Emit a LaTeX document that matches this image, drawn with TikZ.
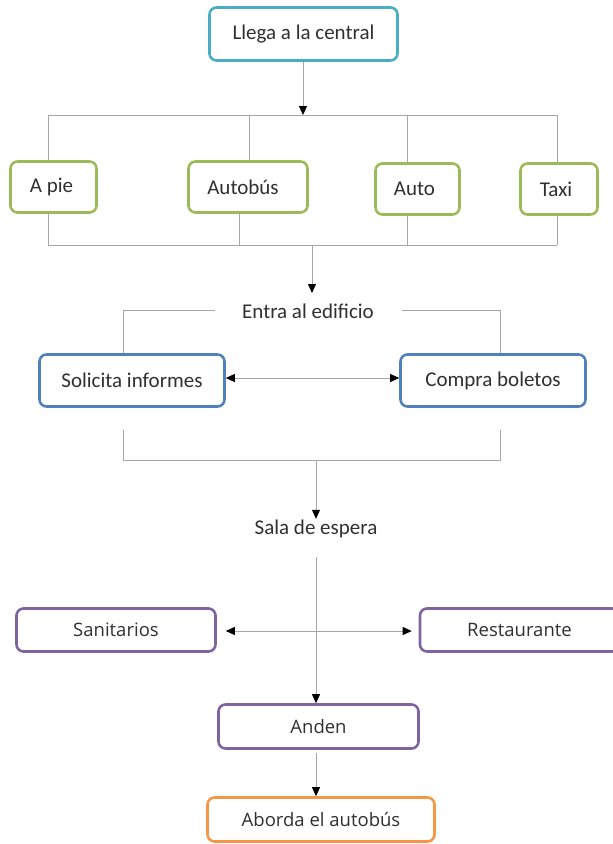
\documentclass[tikz,border=0pt]{standalone}
\usepackage{fontspec}
\setmainfont{Carlito}
\newfontfamily\osans{Open Sans}
\usetikzlibrary{arrows.meta}
\definecolor{cyanb}{HTML}{4BACC6}
\definecolor{greenb}{HTML}{9BBB59}
\definecolor{blueb}{HTML}{4F81BD}
\definecolor{purpleb}{HTML}{8064A2}
\definecolor{orangeb}{HTML}{F79646}
\definecolor{linegray}{HTML}{A6A6A6}
\definecolor{txt}{HTML}{303030}
\begin{document}
\begin{tikzpicture}[x=1pt,y=-1pt,
  box/.style={draw, rounded corners=7pt, line width=2.6pt, fill=white, inner sep=0pt, align=center, text=txt},
  topfont/.style={font=\fontsize{21}{24}\selectfont},
  botfont/.style={font=\osans\fontsize{18.5}{22}\selectfont},
  line/.style={draw=linegray, line width=0.8pt},
  conn/.style={line, -{Triangle[length=9pt,width=8pt,color=black]}},
  dconn/.style={line, {Triangle[length=9pt,width=8pt,color=black]}-{Triangle[length=9pt,width=8pt,color=black]}},
  label/.style={inner sep=1pt, text=txt}
]
\useasboundingbox (0,0) rectangle (613,844);

% top
\node[box, topfont, draw=cyanb, minimum width=188, minimum height=53] (llega) at (303.5,34) {Llega a la central};

\node[box, topfont, draw=greenb, minimum width=86, minimum height=51] (apie) at (53.5,187) {A pie\hspace{4pt}};
\node[box, topfont, draw=greenb, minimum width=119, minimum height=51] (autobus) at (248,187) {Autobús\hspace{10pt}};
\node[box, topfont, draw=greenb, minimum width=84, minimum height=51] (auto) at (417.5,189) {Auto\hspace{6pt}};
\node[box, topfont, draw=greenb, minimum width=77, minimum height=51] (taxi) at (559,189) {Taxi\hspace{6pt}};

\coordinate (h1l) at (48,115);
\coordinate (h1r) at (557,115);
\coordinate (h1c) at (303,115);
\coordinate (h1b) at (249,115);
\coordinate (h1a) at (407,115);
\draw[line] (h1l) -- (h1r);
\draw[conn] (llega.south -| h1c) -- (h1c);
\draw[line] (h1l) -- (h1l |- apie.north);
\draw[line] (h1b) -- (h1b |- autobus.north);
\draw[line] (h1a) -- (h1a |- auto.north);
\draw[line] (h1r) -- (h1r |- taxi.north);

\coordinate (h2l) at (48,245);
\coordinate (h2r) at (557,245);
\coordinate (h2b) at (239,245);
\coordinate (h2a) at (407,245);
\coordinate (h2c) at (312,245);
\draw[line] (h2l) -- (h2r);
\draw[line] (h2l |- apie.south) -- (h2l);
\draw[line] (h2b |- autobus.south) -- (h2b);
\draw[line] (h2a |- auto.south) -- (h2a);
\draw[line] (h2r |- taxi.south) -- (h2r);

% entra
\node[label, topfont] (entra) at (308,311) {Entra al edificio};
\draw[conn] (h2c) -- (312,293) coordinate (entraArr);

\node[box, topfont, draw=blueb, minimum width=185, minimum height=52] (solicita) at (132,380.5) {Solicita informes};
\node[box, topfont, draw=blueb, minimum width=185, minimum height=52] (compra) at (493,380.5) {Compra boletos};

\coordinate (e1) at (215,310);
\coordinate (e1c) at (123,310);
\coordinate (e2) at (402,310);
\coordinate (e2c) at (500,310);
\draw[line] (e1) -- (e1c) -- (e1c |- solicita.north);
\draw[line] (e2) -- (e2c) -- (e2c |- compra.north);

\draw[dconn] (solicita.east |- 0,378) -- (compra.west |- 0,378);

\coordinate (b1) at (123,430);
\coordinate (b1c) at (123,460);
\coordinate (b2) at (500,430);
\coordinate (b2c) at (500,460);
\coordinate (bm) at (316,460);
\draw[line] (b1) -- (b1c) -- (b2c) -- (b2);

\node[label, topfont] (sala) at (316,529) {Sala de espera};
\draw[conn] (bm) -- (bm |- sala.north);

% bottom
\node[box, botfont, draw=purpleb, minimum width=199, minimum height=43] (sanit) at (116,630) {Sanitarios};
\node[box, botfont, draw=purpleb, minimum width=199, minimum height=43] (rest) at (519.5,630) {Restaurante};
\node[box, botfont, draw=purpleb, minimum width=200, minimum height=44] (anden) at (318.5,726.5) {Anden};
\node[box, botfont, draw=orangeb, minimum width=227, minimum height=44] (aborda) at (321,819.5) {Aborda el autobús};

\coordinate (s1) at (316,557);
\draw[conn] (s1) -- (s1 |- anden.north);
\draw[dconn] ([xshift=9pt]sanit.east |- 0,631) -- ([xshift=-7pt]rest.west |- 0,631);
\coordinate (a1) at (316,753);
\draw[conn] (a1) -- (a1 |- aborda.north);
\end{tikzpicture}
\end{document}
